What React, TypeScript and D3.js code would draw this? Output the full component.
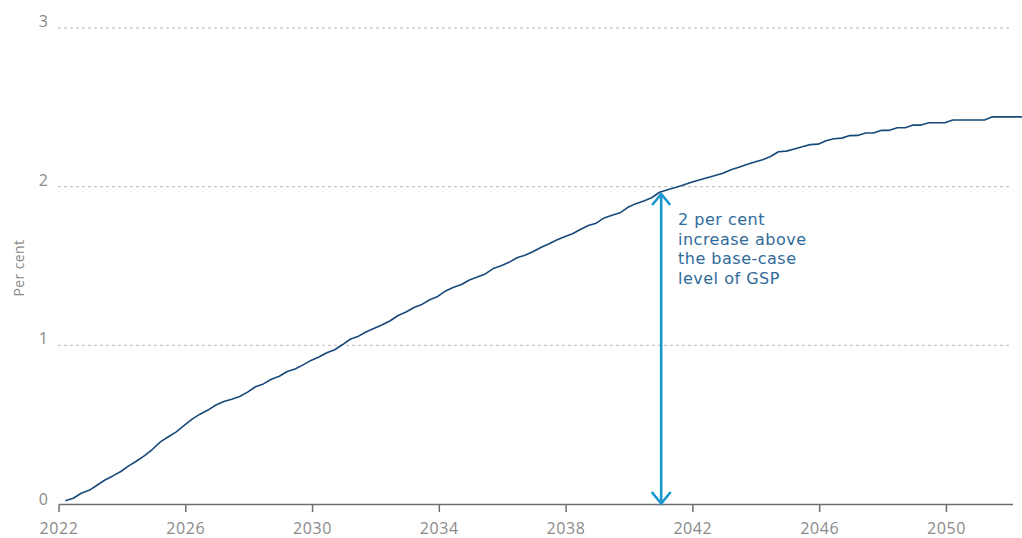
import React from "react";
import * as d3 from "d3";

const firstYear = 2022.2;
const stepYears = 0.25;
const values: number[] = [
  0.02, 0.036, 0.068, 0.086, 0.118, 0.151, 0.177, 0.205, 0.24, 0.271,
  0.305, 0.345, 0.392, 0.424, 0.455, 0.495, 0.535, 0.566, 0.592, 0.624,
  0.646, 0.66, 0.678, 0.705, 0.739, 0.757, 0.786, 0.805, 0.835, 0.851,
  0.877, 0.905, 0.926, 0.953, 0.972, 1.005, 1.04, 1.058, 1.086, 1.108,
  1.13, 1.155, 1.188, 1.21, 1.238, 1.258, 1.287, 1.308, 1.343, 1.366,
  1.383, 1.412, 1.43, 1.45, 1.484, 1.502, 1.523, 1.552, 1.568, 1.59,
  1.617, 1.639, 1.664, 1.685, 1.703, 1.73, 1.755, 1.77, 1.803, 1.82,
  1.835, 1.87, 1.893, 1.91, 1.93, 1.965, 1.98, 1.995, 2.01, 2.028,
  2.042, 2.056, 2.07, 2.085, 2.106, 2.122, 2.14, 2.155, 2.17, 2.19,
  2.22, 2.224, 2.238, 2.252, 2.265, 2.268, 2.29, 2.302, 2.306, 2.322,
  2.323, 2.338, 2.338, 2.355, 2.355, 2.371, 2.371, 2.388, 2.388, 2.403,
  2.403, 2.403, 2.42, 2.42, 2.42, 2.42, 2.42, 2.44, 2.44, 2.44,
  2.44, 2.44,
];
const xTicks = [2022, 2026, 2030, 2034, 2038, 2042, 2046, 2050];
const yTicks = [0, 1, 2, 3];
const arrowYear = 2041;
const arrowTop = 1.96;
const annotationLines = ["2 per cent", "increase above", "the base-case", "level of GSP"];
const yLabel = "Per cent";

const W = 1022;
const H = 538;

export default function App() {
  const x = d3.scaleLinear().domain([2022, 2052.1]).range([59, 1013]);
  const y = d3.scaleLinear().domain([0, 3]).range([504, 28]);
  const pts = values.map((v, i) => [firstYear + i * stepYears, v] as [number, number]);
  const line = d3
    .line<[number, number]>()
    .x((d) => x(d[0]))
    .y((d) => y(d[1]));

  const ax = x(arrowYear);
  const ayTop = y(arrowTop) + 1;
  const ayBot = y(0) - 0.5;
  const font = "'Open Sans', 'DejaVu Sans', sans-serif";
  const arrowColor = "#1b97cf";

  return (
    <svg
      width={W}
      height={H}
      style={{ position: "absolute", left: 0, top: 0, background: "#fff" }}
      fontFamily={font}
    >
      {yTicks
        .filter((t) => t > 0)
        .map((t) => (
          <line
            key={"g" + t}
            x1={58}
            x2={1011}
            y1={y(t)}
            y2={y(t)}
            stroke="#b8b8b8"
            strokeWidth={1}
            strokeDasharray="3,3"
          />
        ))}
      {yTicks.map((t) => (
        <text
          key={"yl" + t}
          x={48}
          y={y(t) + (t === 0 ? 1 : -1)}
          textAnchor="end"
          fontSize={16}
          fill="#8a8a8a"
        >
          {t}
        </text>
      ))}
      <text
        transform={`translate(24,${268}) rotate(-90)`}
        textAnchor="middle"
        fontSize={14}
        letterSpacing={0.4}
        fill="#8a8a8a"
      >
        {yLabel}
      </text>
      <line x1={x(2022)} x2={x(2052.1)} y1={504.5} y2={504.5} stroke="#6e6e6e" strokeWidth={1.5} />
      {xTicks.map((t) => (
        <g key={"xt" + t}>
          <line x1={x(t)} x2={x(t)} y1={504.5} y2={512} stroke="#6e6e6e" strokeWidth={1.5} />
          <text x={x(t)} y={534} textAnchor="middle" fontSize={16} letterSpacing={0.6} fill="#8a8a8a">
            {t}
          </text>
        </g>
      ))}
      <path d={line(pts) || ""} fill="none" stroke="#17497a" strokeWidth={1.6} strokeLinejoin="round" />
      <g stroke={arrowColor} strokeWidth={2.6} fill="none" strokeLinecap="butt">
        <line x1={ax} x2={ax} y1={ayTop + 1} y2={ayBot - 1} />
        <polyline points={`${ax - 9},${ayTop + 11} ${ax},${ayTop} ${ax + 9},${ayTop + 11}`} />
        <polyline points={`${ax - 9.5},${ayBot - 11.5} ${ax},${ayBot} ${ax + 9.5},${ayBot - 11.5}`} />
      </g>
      {annotationLines.map((s, i) => (
        <text
          key={"a" + i}
          x={678}
          y={225 + i * 19.6}
          fontSize={16}
          fontFamily="'DejaVu Sans', sans-serif"
          letterSpacing={0.5}
          fill="#2f6a99"
        >
          {s}
        </text>
      ))}
    </svg>
  );
}
